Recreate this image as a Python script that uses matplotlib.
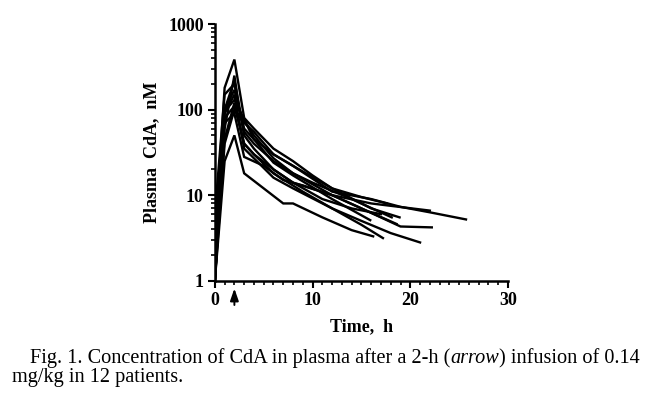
import matplotlib
matplotlib.use("Agg")
import matplotlib.pyplot as plt
from matplotlib.ticker import FixedLocator, NullFormatter, LogLocator
import matplotlib.transforms as mtransforms

# Data: 12 patients, time (h) and plasma CdA (nM)
t1 = [0, 1, 2, 3, 4, 6, 8, 12, 16, 19, 22, 25.7]
c1 = [1, 40, 100, 70, 55, 30, 22, 11, 9, 7.3, 6.3, 5.2]
t2 = [0, 1, 2, 3, 4, 6, 8, 10, 12, 15, 17.6]
c2 = [3, 180, 385, 80, 60, 35, 25, 17, 12, 9.5, 8]
t3 = [0, 1, 2, 3, 4, 6, 8, 12, 15, 19, 22.2]
c3 = [1, 100, 220, 55, 40, 25, 18, 10, 7, 4.3, 4.2]
t4 = [0, 1, 2, 3, 4, 6, 9, 12, 15, 18, 21]
c4 = [2, 45, 120, 40, 30, 18, 11, 7, 5, 3.6, 2.8]
t5 = [0, 1, 2, 3, 5, 7, 8, 11, 14, 16.2]
c5 = [1, 25, 50, 18, 12, 8, 8, 5.5, 3.9, 3.3]
t6 = [0, 1, 2, 3, 4, 6, 8, 12, 15, 17.2]
c6 = [5, 90, 150, 35, 27, 16, 12, 7, 4.5, 3.15]
t7 = [0, 1, 2, 2.5, 4, 6, 8, 12, 15.9]
c7 = [1, 60, 250, 100, 45, 24, 17, 9, 5.1]
t8 = [0, 1, 2, 3, 4, 6, 8, 12, 16, 18.9]
c8 = [1, 100, 170, 60, 45, 30, 22, 12, 7, 5.5]
t9 = [0, 1, 2, 3, 4, 6, 8, 10, 14, 18.1]
c9 = [2, 95, 130, 75, 50, 27, 18, 14, 9, 5.5]
t10 = [0, 1, 2, 3, 5, 7, 9, 12, 15, 18.6]
c10 = [1, 70, 90, 28, 22, 15, 13, 10, 7, 4.6]
t11 = [0, 1, 2, 3, 4, 6, 8, 11, 14, 17]
c11 = [6, 150, 200, 50, 35, 20, 14, 9, 7, 6]
t12 = [0, 1, 2, 3, 4, 6, 8, 12, 16, 22]
c12 = [1, 80, 110, 40, 30, 20, 14, 10, 8, 6.6]

times = [t1, t2, t3, t4, t5, t6, t7, t8, t9, t10, t11, t12]
concs = [c1, c2, c3, c4, c5, c6, c7, c8, c9, c10, c11, c12]

xticks = [0, 10, 20, 30]
yticks = [1, 10, 100, 1000]
xlabel = "Time,  h"
ylabel = "Plasma  CdA,  nM"
caption1_a = "Fig. 1. Concentration of CdA in plasma after a 2-h ("
caption1_b = "arrow"
caption1_c = ") infusion of 0.14"
caption2 = "mg/kg in 12 patients."
infusion_end = 2

serif = ["Liberation Serif", "DejaVu Serif"]

fig = plt.figure(figsize=(6.55, 3.95), dpi=100)
ax = fig.add_axes([0.328, 0.2894, 0.4476, 0.6496])

for t, c in zip(times, concs):
    ax.plot(t, c, color="black", lw=1.7, solid_joinstyle="miter")

ax.set_yscale("log")
ax.set_xlim(0, 30)
ax.set_ylim(1, 1000)
ax.set_xticks(xticks)
ax.xaxis.set_minor_locator(FixedLocator(range(0, 31)))
ax.set_yticks(yticks)
ax.yaxis.set_minor_locator(LogLocator(base=10, subs=range(2, 10)))
ax.yaxis.set_minor_formatter(NullFormatter())
ax.set_xticklabels([str(v) for v in xticks])
ax.set_yticklabels([str(v) for v in yticks])

for s in ["top", "right"]:
    ax.spines[s].set_visible(False)
for s in ["left", "bottom"]:
    ax.spines[s].set_linewidth(1.8)

ax.tick_params(which="major", direction="out", length=5, width=1.5,
               labelsize=13, pad=3)
ax.tick_params(which="minor", direction="out", length=3, width=1.2)
for lab in ax.get_xticklabels() + ax.get_yticklabels():
    lab.set_family(serif)
    lab.set_fontweight("bold")

ax.set_xlabel(xlabel, family=serif, fontweight="bold", fontsize=13, labelpad=7)
ax.set_ylabel(ylabel, family=serif, fontweight="bold", fontsize=13, labelpad=6)

# arrow marking end of infusion
trans = mtransforms.blended_transform_factory(ax.transData, fig.transFigure)
ax.annotate("", xy=(infusion_end, 1 - 288.5 / 395), xytext=(infusion_end, 1 - 305 / 395),
            xycoords=trans, textcoords=trans,
            arrowprops=dict(arrowstyle="-|>,head_length=0.72,head_width=0.25",
                            color="black", lw=1.4,
                            mutation_scale=10, shrinkA=0, shrinkB=0))

# caption
fig.canvas.draw()
renderer = fig.canvas.get_renderer()
x0 = 30 / 655
y1 = 1 - 363 / 395
cap_size = 14.6
ta = fig.text(x0, y1, caption1_a, family=serif, fontsize=cap_size, va="baseline")
bb = ta.get_window_extent(renderer)
tb = fig.text(bb.x1 / fig.bbox.width, y1, caption1_b, family=serif, style="italic",
              fontsize=cap_size, va="baseline")
bb2 = tb.get_window_extent(renderer)
tc = fig.text(bb2.x1 / fig.bbox.width, y1, caption1_c, family=serif,
              fontsize=cap_size, va="baseline")
fig.text(12 / 655, 1 - 382 / 395, caption2, family=serif, fontsize=cap_size, va="baseline")

fig.savefig("out.png", dpi=100)
